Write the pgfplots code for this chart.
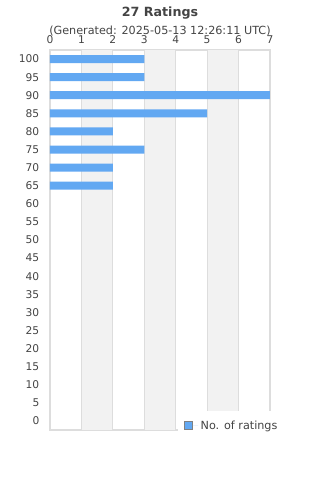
\documentclass[border=0pt]{standalone}
\usepackage{fontspec}
\setmainfont{DejaVu Sans}
\usepackage{pgfplots}
\pgfplotsset{compat=1.18}
\definecolor{barc}{RGB}{98,168,242}
\definecolor{band}{RGB}{242,242,242}
\definecolor{gridc}{RGB}{221,221,221}
\definecolor{txt}{RGB}{68,68,68}
\begin{document}
\begin{tikzpicture}
\useasboundingbox (0,0) rectangle (240pt,360pt);
\node[font=\fontsize{9.5}{11}\selectfont\bfseries, text=txt] at (120pt,350pt) {27 Ratings};
\node[font=\fontsize{8.4}{10}\selectfont, text=txt] at (120pt,336.7pt) {(Generated: 2025-05-13 12:26:11 UTC)};
\begin{axis}[
  at={(37.5pt,37.5pt)}, anchor=south west,
  scale only axis, width=165pt, height=285pt,
  xbar, bar width=6pt, bar shift=0pt,
  xmin=0, xmax=7, ymin=-2.5, ymax=102.5,
  xtick={0,1,...,7}, ytick={0,5,...,100},
  xticklabel pos=top,
  major tick length=0pt,
  axis line style={gridc, line width=0.8pt},
  tick label style={font=\fontsize{8}{10}\selectfont, text=txt},
  /pgf/number format/assume math mode=true,
  xticklabel style={yshift=1.5pt},
  yticklabel style={xshift=-4.5pt},
  legend style={at={(0.582,0.05)}, anchor=north west, fill=white, draw=none,
    font=\fontsize{8.4}{10}\selectfont, text=txt, inner xsep=4pt, inner ysep=5pt},
  legend image code/.code={\draw[fill=barc, draw=gray, line width=0.6pt] (0pt,-3pt) rectangle (6pt,3pt); \path (0pt,0pt) -- (10.5pt,0pt);},
]
\fill[band] (axis cs:1,-2.5) rectangle (axis cs:2,102.5);
\fill[band] (axis cs:3,-2.5) rectangle (axis cs:4,102.5);
\fill[band] (axis cs:5,-2.5) rectangle (axis cs:6,102.5);
\pgfplotsinvokeforeach{1,...,6}{\draw[gridc, line width=0.6pt] (axis cs:#1,-2.5) -- (axis cs:#1,102.5);}
\addplot[fill=barc, draw=none] coordinates {
(3,100) (3,95) (7,90) (5,85) (2,80) (3,75) (2,70) (2,65)
};
\addlegendentry{No. of ratings}
\end{axis}
\end{tikzpicture}
\end{document}
